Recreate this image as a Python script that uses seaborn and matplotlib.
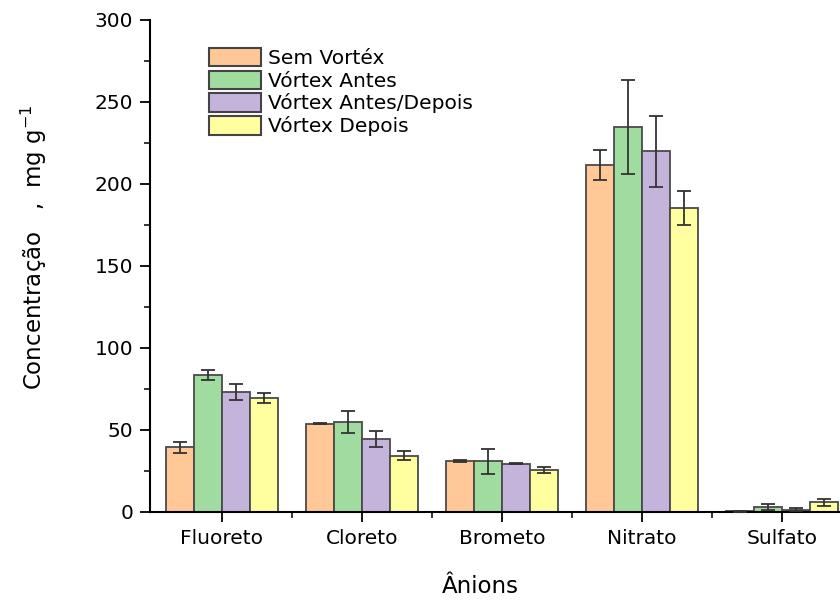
import numpy as np
import pandas as pd
import matplotlib
matplotlib.use("Agg")
import matplotlib.pyplot as plt
import seaborn as sns
from matplotlib.ticker import MultipleLocator, FixedLocator

# Anion concentrations (mg g^-1) per treatment, with standard deviations
anions = ["Fluoreto", "Cloreto", "Brometo", "Nitrato", "Sulfato"]
groups = ["Sem Vortéx", "Vórtex Antes", "Vórtex Antes/Depois", "Vórtex Depois"]

sem_vortex = [39.4, 53.9, 30.9, 211.6, 0.5]
vortex_antes = [83.3, 54.7, 30.9, 234.8, 2.8]
vortex_antes_depois = [73.0, 44.5, 29.3, 219.9, 1.5]
vortex_depois = [69.5, 34.3, 25.8, 185.6, 5.9]

sd_sem_vortex = [3.3, 0.5, 0.5, 9.0, 0.3]
sd_vortex_antes = [3.0, 6.6, 7.5, 28.8, 1.8]
sd_vortex_antes_depois = [4.8, 4.8, 0.3, 21.8, 1.2]
sd_vortex_depois = [3.2, 2.7, 1.8, 10.4, 2.1]

colors = ["#FFC896", "#A0DCA0", "#C4B4DC", "#FFFFA0"]

values = [sem_vortex, vortex_antes, vortex_antes_depois, vortex_depois]
sds = [sd_sem_vortex, sd_vortex_antes, sd_vortex_antes_depois, sd_vortex_depois]

rows = []
for g, vals, errs in zip(groups, values, sds):
    for a, v, e in zip(anions, vals, errs):
        rows.append({"anion": a, "grupo": g, "valor": v, "dp": e})
df = pd.DataFrame(rows)

sns.set_style("ticks")
plt.rcParams["font.family"] = ["DejaVu Sans"]
plt.rcParams["text.color"] = "black"
plt.rcParams["axes.labelcolor"] = "black"

fig = plt.figure(figsize=(8.4, 6.0), dpi=100)
ax = fig.add_axes([0.1786, 0.1467, 0.8214, 0.82])

sns.barplot(data=df, x="anion", y="valor", hue="grupo", order=anions,
            hue_order=groups, palette=colors, errorbar=None, width=0.8,
            edgecolor="#4a4a4a", linewidth=1.3, ax=ax, saturation=1)

# Error bars centred on each drawn bar
for container, g in zip(ax.containers, groups):
    sub = df[df["grupo"] == g].set_index("anion").loc[anions]
    xs = [p.get_x() + p.get_width() / 2 for p in container.patches]
    ax.errorbar(xs, sub["valor"].values, yerr=sub["dp"].values, fmt="none",
                ecolor="#333333", elinewidth=1.3, capsize=5, capthick=1.3,
                zorder=5)

ax.set_ylim(0, 300)
ax.set_xlim(-0.514, 4.414)
ax.yaxis.set_major_locator(MultipleLocator(50))
ax.yaxis.set_minor_locator(MultipleLocator(25))
ax.xaxis.set_minor_locator(FixedLocator([0.5, 1.5, 2.5, 3.5]))

ax.tick_params(axis="both", which="major", direction="out", length=7,
               width=1.3, labelsize=14.5, colors="black")
ax.tick_params(axis="both", which="minor", direction="out", length=4,
               width=1.3)
ax.tick_params(axis="x", which="major", pad=5)
ax.tick_params(axis="y", which="major", pad=5)

for side in ["top", "right"]:
    ax.spines[side].set_visible(False)
for side in ["left", "bottom"]:
    ax.spines[side].set_linewidth(1.5)
    ax.spines[side].set_color("black")

ax.set_xlabel("Ânions", fontsize=16.5)
ax.xaxis.set_label_coords(0.478, -0.128)
ax.set_ylabel("Concentração   ,  mg g$^{-1}$", fontsize=16.5)
ax.yaxis.set_label_coords(-0.147, 0.538)

leg = ax.legend(loc="upper left", bbox_to_anchor=(0.074, 0.96), frameon=False,
                fontsize=14.5, handlelength=2.6, handleheight=1.02,
                handletextpad=0.3, labelspacing=0.14, borderaxespad=0)
for h in leg.legend_handles:
    h.set_edgecolor("#444444")
    h.set_linewidth(1.5)

fig.savefig("out.png", dpi=100)
